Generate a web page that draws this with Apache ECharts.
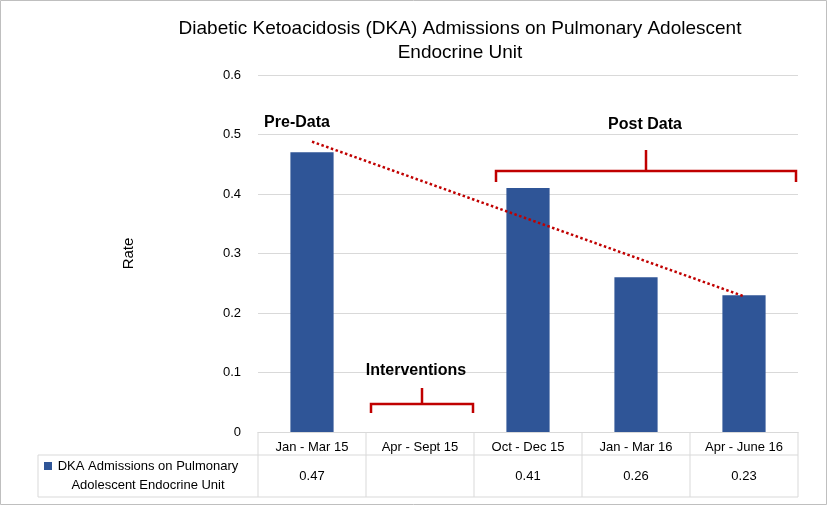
<!DOCTYPE html>
<html><head><meta charset="utf-8">
<script src="https://cdn.jsdelivr.net/npm/echarts@6/dist/echarts.min.js"></script>
<style>body{margin:0;background:#fff}#c{width:828px;height:506px}</style>
</head><body><div id="c"></div>
<script>
var categories = ['Jan - Mar 15', 'Apr - Sept 15', 'Oct - Dec 15', 'Jan - Mar 16', 'Apr - June 16'];
var rates = [0.47, null, 0.41, 0.26, 0.23];
var trend = [0.488, null, null, null, 0.228];
var seriesName = 'DKA Admissions on Pulmonary Adolescent Endocrine Unit';
var font = 'Liberation Sans, Arial, sans-serif';
var red = '#C00000', blue = '#2F5597', line = '#d9d9d9';

var chart = echarts.init(document.getElementById('c'));
chart.setOption({
    animation: false,
    title: {
        text: 'Diabetic Ketoacidosis (DKA) Admissions on Pulmonary Adolescent\nEndocrine Unit',
        left: 455, top: 12, textAlign: 'center',
        textStyle: {fontFamily: font, fontSize: 19, fontWeight: 'normal', color: '#000', lineHeight: 24}
    },
    grid: {left: 258, right: 30, top: 75, bottom: 74},
    xAxis: {
        type: 'category', data: categories,
        axisLine: {lineStyle: {color: line}}, axisTick: {show: false},
        axisLabel: {fontFamily: font, fontSize: 13, color: '#000', margin: 9}
    },
    yAxis: {
        type: 'value', min: 0, max: 0.6, interval: 0.1,
        name: 'Rate', nameLocation: 'middle', nameGap: 122,
        nameTextStyle: {fontFamily: font, fontSize: 15, color: '#000'},
        axisLabel: {fontFamily: font, fontSize: 13, color: '#000', margin: 17,
            formatter: function (v) { return v === 0 ? '0' : v.toFixed(1); }},
        splitLine: {lineStyle: {color: line}}
    },
    series: [
        {name: seriesName, type: 'bar', data: rates, barWidth: '40%', itemStyle: {color: blue}},
        {type: 'line', data: trend, connectNulls: true, symbol: 'none',
         lineStyle: {color: red, type: 'dotted', width: 2.5}}
    ]
});

function px(i, v) { return chart.convertToPixel({gridIndex: 0}, [i, v]); }
var g = [];
var x0 = px(0, 0)[0] - 54, y0 = px(0, 0)[1];
var cw = 108, xEnd = x0 + cw * 5;
// data table
g.push({type: 'line', shape: {x1: 38, y1: y0 + 23, x2: xEnd, y2: y0 + 23}, style: {stroke: line}});
g.push({type: 'line', shape: {x1: 38, y1: y0 + 65, x2: xEnd, y2: y0 + 65}, style: {stroke: line}});
g.push({type: 'line', shape: {x1: 38, y1: y0 + 23, x2: 38, y2: y0 + 65}, style: {stroke: line}});
for (var k = 0; k <= 5; k++) {
    g.push({type: 'line', shape: {x1: x0 + k * cw, y1: y0, x2: x0 + k * cw, y2: y0 + 65}, style: {stroke: line}});
}
rates.forEach(function (v, i) {
    if (v === null) return;
    g.push({type: 'text', x: x0 + cw * i + cw / 2, y: y0 + 44,
        style: {text: String(v), font: '13px ' + font, fill: '#000', align: 'center', verticalAlign: 'middle'}});
});
g.push({type: 'rect', shape: {x: 44, y: y0 + 30, width: 8, height: 8}, style: {fill: blue}});
g.push({type: 'text', x: 148, y: y0 + 44,
    style: {text: 'DKA Admissions on Pulmonary\nAdolescent Endocrine Unit', font: '13px ' + font, lineHeight: 19,
        fill: '#000', align: 'center', verticalAlign: 'middle'}});
// annotations
function bracket(xa, xb, y, endDy, midDy) {
    var xm = (xa + xb) / 2;
    g.push({type: 'polyline', shape: {points: [[xa, y + endDy], [xa, y], [xb, y], [xb, y + endDy]]}, style: {stroke: red, lineWidth: 2.5, fill: null}});
    g.push({type: 'line', shape: {x1: xm, y1: y, x2: xm, y2: y + midDy}, style: {stroke: red, lineWidth: 2.5}});
}
bracket(496, 796, 171, 11, -21);
bracket(371, 473, 404, 9, -16);
function label(t, x, y) {
    g.push({type: 'text', x: x, y: y, style: {text: t, font: 'bold 16px ' + font, fill: '#000', align: 'center', verticalAlign: 'middle'}});
}
label('Pre-Data', 297, 123);
label('Post Data', 645, 125);
label('Interventions', 416, 371);
// outer border
g.push({type: 'rect', shape: {x: 0.5, y: 0.5, width: 826, height: 504}, style: {fill: null, stroke: '#bfbfbf'}});
chart.setOption({graphic: g});
</script>
</body></html>
